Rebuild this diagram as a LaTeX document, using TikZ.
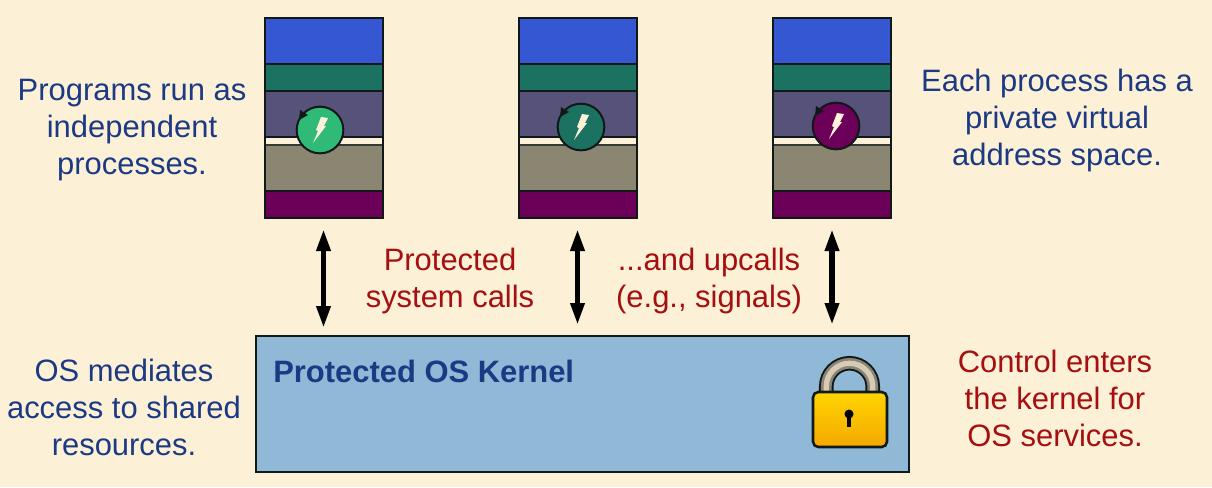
\documentclass[tikz,border=0pt]{standalone}
\usepackage{fontspec}
\setmainfont{Liberation Sans}
\usetikzlibrary{arrows.meta,calc}
\definecolor{bgc}{HTML}{FCF0D6}
\definecolor{blueb}{HTML}{3558D2}
\definecolor{greenb}{HTML}{1B7260}
\definecolor{slateb}{HTML}{57527A}
\definecolor{creamb}{HTML}{FDF2D9}
\definecolor{greyb}{HTML}{8B8672}
\definecolor{purpb}{HTML}{6C0059}
\definecolor{kern}{HTML}{8FB9D6}
\definecolor{navy}{HTML}{1C3A84}
\definecolor{crim}{HTML}{A50F0F}
\definecolor{edge}{HTML}{111818}
\definecolor{thr1}{HTML}{2FBB77}
\definecolor{lockt}{HTML}{FFD400}
\definecolor{lockb}{HTML}{F4A900}
\tikzset{
  x=0.75pt,y=-0.75pt,
  band/.style={draw=edge,line width=1.5pt},
  stackbox/.style={draw=edge,line width=1.5pt,minimum width=88.5pt,minimum height=149.7pt,inner sep=0pt,outer sep=0pt,anchor=north west},
  blue note/.style={text=navy,font=\fontsize{23.2}{27.7}\selectfont,align=center,inner sep=0pt},
  red note/.style={text=crim,font=\fontsize{23.2}{27.7}\selectfont,align=center,inner sep=0pt},
  updown/.style={line width=4pt,draw=black,{Triangle[length=16.5pt,width=10pt]}-{Triangle[length=16.5pt,width=10pt]}},
  shackle/.style={line width=#1,line cap=butt},
}
\newcommand{\procstack}[5]{% name, x, threadcolor, cx, cy
  \fill[blueb] (#2,18) rectangle ++(118,46);
  \fill[greenb] (#2,64) rectangle ++(118,27);
  \fill[slateb] (#2,91) rectangle ++(118,46);
  \fill[creamb] (#2,137) rectangle ++(118,8);
  \fill[greyb] (#2,145) rectangle ++(118,46);
  \fill[purpb] (#2,191) rectangle ++(118,27);
  \draw[band] (#2,64) -- ++(118,0);
  \draw[band] (#2,91) -- ++(118,0);
  \draw[band] (#2,137) -- ++(118,0);
  \draw[band,draw=edge!70!greyb] (#2,145) -- ++(118,0);
  \draw[band] (#2,191) -- ++(118,0);
  \node[stackbox] (#1) at (#2,18) {};
  \node[circle,draw=edge,line width=1.5pt,fill=#3,minimum size=35pt,inner sep=0pt,outer sep=0pt] (#1t) at (#4,#5) {};
  \fill[edge] ($(#4,#5)+(-20,-20)$) -- ($(#4,#5)+(-12,-15)$) -- ($(#4,#5)+(-21,-10)$) -- cycle;
  \fill[creamb] ($(#4,#5)+(1,-13)$) -- ($(#4,#5)+(8,-12)$) -- ($(#4,#5)+(4,-4)$) -- ($(#4,#5)+(6,-4)$) -- ($(#4,#5)+(-7,13)$) -- ($(#4,#5)+(-2,1)$) -- ($(#4,#5)+(-4,0)$) -- cycle;
}
\begin{document}
\begin{tikzpicture}
\useasboundingbox (0,0) rectangle (1212,487);
\fill[bgc] (0,0) rectangle (1212,487);
\procstack{p1}{265}{thr1}{320}{130}
\procstack{p2}{519}{greenb}{581}{127}
\procstack{p3}{773.4}{purpb}{836}{126}
% kernel
\node[draw=edge,line width=1.5pt,fill=kern,minimum width=490pt,minimum height=102pt,inner sep=0pt,outer sep=0pt,anchor=north west] (kernel) at (255.5,336) {};
\node[anchor=base west,text=navy,inner sep=0pt,font=\fontsize{23.2}{27}\selectfont\bfseries] (ktitle) at (273,382) {Protected OS Kernel};
% arrows
\coordinate (a1t) at (323.5,229); \coordinate (a1b) at (323.5,328);
\coordinate (a2t) at (577.5,229); \coordinate (a2b) at (577.5,325);
\coordinate (a3t) at (832,229); \coordinate (a3b) at (832,325);
\draw[updown] (a1t) -- (a1b);
\draw[updown] (a2t) -- (a2b);
\draw[updown] (a3t) -- (a3b);
% lock
\coordinate (lk) at (849.5,386.5);
\draw[shackle=10.9pt,edge] ($(lk)+(-23.25,8)$) -- ($(lk)+(-23.25,0)$) arc[start angle=180,end angle=360,radius=23.25] -- ($(lk)+(23.25,8)$);
\draw[shackle=8pt,color=black!45!bgc] ($(lk)+(-23.25,8)$) -- ($(lk)+(-23.25,0)$) arc[start angle=180,end angle=360,radius=23.25] -- ($(lk)+(23.25,8)$);
\draw[shackle=4pt,color=black!15!bgc] ($(lk)+(-23.25,8)$) -- ($(lk)+(-23.25,0)$) arc[start angle=180,end angle=360,radius=23.25] -- ($(lk)+(23.25,8)$);
\shade[top color=lockt,bottom color=lockb,draw=edge,line width=1.9pt,rounded corners=4pt] (813,392) rectangle (887,447);
\fill[black] (849,414) circle[radius=4.5];
\fill[black] (847.2,414) rectangle (850.8,427);
% text
\node[blue note] (t1) at (132,130) {Programs run as\\independent\\processes.};
\node[blue note] (t2) at (1057,120.5) {Each process has a\\private virtual\\address space.};
\node[blue note] (t3) at (124,407.5) {OS mediates\\access to shared\\resources.};
\node[red note] (t4) at (450,281) {Protected\\system calls};
\node[red note] (t5) at (709,281) {...and upcalls\\(e.g., signals)};
\node[red note] (t6) at (1055,398) {Control enters\\the kernel for\\OS services.};
\end{tikzpicture}
\end{document}
